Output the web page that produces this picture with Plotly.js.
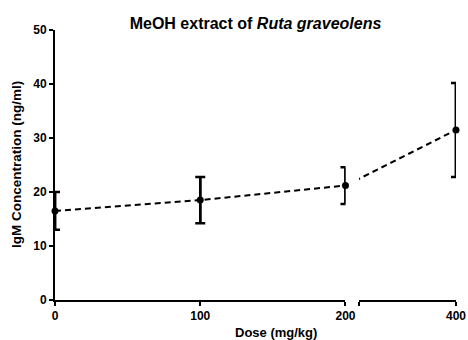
<!DOCTYPE html>
<html>
<head>
<meta charset="utf-8">
<script src="https://cdn.plot.ly/plotly-3.0.1.min.js"></script>
<style>html,body{margin:0;padding:0;background:#fff;}#chart{width:468px;height:340px;}</style>
</head>
<body>
<div id="chart"></div>
<script>
// Data
const dose = [0, 100, 200, 400];              // mg/kg
const igm = [16.5, 18.5, 21.2, 31.5];         // IgM concentration (ng/ml)
const igmErr = [3.5, 4.3, 3.4, 8.7];          // error bar half-width
const yTicks = [0, 10, 20, 30, 40, 50];
const xTicksLeft = [0, 100, 200];
const xTicksRight = [400];

const seg1 = [0, 1, 2];   // indices on the left axis segment
const seg2 = [3];         // indices on the right axis segment
const pick = (arr, idx) => idx.map(i => arr[i]);

const FONT = 'Liberation Sans, Arial, sans-serif';
const black = '#000';
const lineStyle = {color: black, width: 2, dash: '6px,4px'};
const capStyle = {type: 'data', visible: true, color: black, thickness: 2.5, width: 5};
const stemStyle = {type: 'data', visible: true, color: black, thickness: 2.5, width: 0};

function segTraces(idx, xa) {
  const xs = pick(dose, idx), ys = pick(igm, idx), es = pick(igmErr, idx);
  return [
    // caps, clipped to the plot area like the original
    {x: xs, y: ys, xaxis: xa, yaxis: 'y', mode: 'markers', marker: {size: 1, opacity: 0},
     cliponaxis: true, error_y: Object.assign({array: es}, capStyle)},
    // full-width stems
    {x: xs, y: ys, xaxis: xa, yaxis: 'y', mode: 'markers', marker: {size: 1, opacity: 0},
     cliponaxis: false, error_y: Object.assign({array: es}, stemStyle)},
    // markers
    {x: xs, y: ys, xaxis: xa, yaxis: 'y', mode: 'markers',
     marker: {color: black, size: 7, symbol: 'circle'}, cliponaxis: false}
  ];
}

const traces = [
  // dashed connecting line, left segment
  {x: pick(dose, seg1), y: pick(igm, seg1), xaxis: 'x', yaxis: 'y', mode: 'lines',
   line: lineStyle, cliponaxis: true, hoverinfo: 'skip'},
  // dashed connecting line across the break (clipped on right segment)
  {x: [dose[2], dose[3]], y: [igm[2], igm[3]], xaxis: 'x2', yaxis: 'y', mode: 'lines',
   line: lineStyle, cliponaxis: true, hoverinfo: 'skip'}
].concat(segTraces(seg1, 'x'), segTraces(seg2, 'x2'));

const tickFont = {family: FONT, size: 12, color: black, weight: 'bold'};
const axisCommon = {
  showgrid: false, zeroline: false, showline: true, linecolor: black, linewidth: 2,
  ticks: 'outside', ticklen: 4, tickwidth: 2, tickcolor: black,
  tickfont: tickFont
};

const layout = {
  width: 468, height: 340,
  margin: {l: 55, r: 12, t: 30, b: 40},
  paper_bgcolor: '#fff', plot_bgcolor: '#fff',
  showlegend: false,
  font: {family: FONT, color: black},
  title: {
    text: 'MeOH extract of <i>Ruta graveolens</i>',
    font: {family: FONT, size: 16, color: black, weight: 'bold'},
    xref: 'paper', x: 0.5, xanchor: 'center',
    yref: 'container', y: 0.93, yanchor: 'middle'
  },
  xaxis: Object.assign({}, axisCommon, {
    domain: [0, 0.7244], range: [0, 200], anchor: 'y',
    tickmode: 'array', tickvals: xTicksLeft, ticktext: xTicksLeft.map(String)
  }),
  xaxis2: Object.assign({}, axisCommon, {
    domain: [0.758, 1], range: [224, 400], anchor: 'y',
    tickmode: 'array', tickvals: [224].concat(xTicksRight), ticktext: [''].concat(xTicksRight.map(String))
  }),
  yaxis: Object.assign({}, axisCommon, {
    range: [0, 50], anchor: 'x',
    tickmode: 'array', tickvals: yTicks, ticktext: yTicks.map(String)
  }),
  annotations: [{
    text: 'Dose (mg/kg)', xref: 'paper', yref: 'paper', x: 0.551, y: -0.085,
    xanchor: 'center', yanchor: 'top', showarrow: false,
    font: {family: FONT, size: 13, color: black, weight: 'bold'}
  }, {
    text: 'IgM Concentration (ng/ml)', xref: 'paper', yref: 'paper', x: -0.097, y: 0.5,
    xanchor: 'center', yanchor: 'middle', textangle: -90, showarrow: false,
    font: {family: FONT, size: 13.5, color: black, weight: 'bold'}
  }]
};

Plotly.newPlot('chart', traces, layout, {staticPlot: true, displayModeBar: false});
</script>
</body>
</html>
